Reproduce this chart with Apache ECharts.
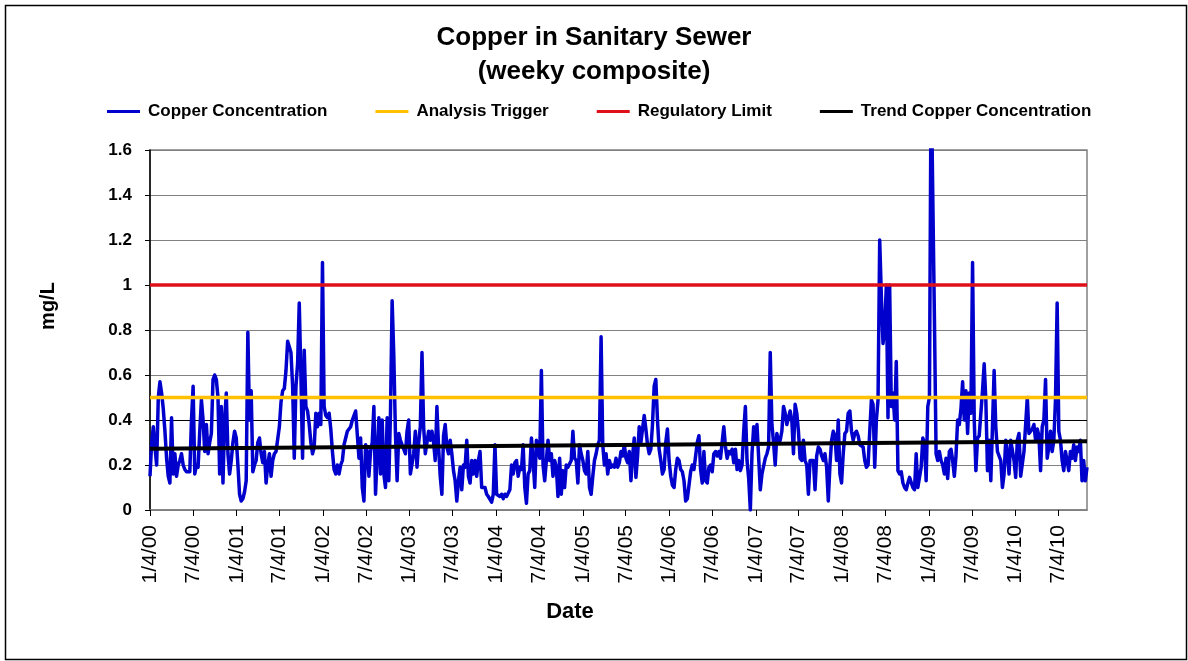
<!DOCTYPE html>
<html>
<head>
<meta charset="utf-8">
<script src="https://cdn.jsdelivr.net/npm/echarts@6/dist/echarts.min.js"></script>
<style>html,body{margin:0;padding:0;background:#fff}#chart{width:1188px;height:661px}</style>
</head>
<body>
<div id="chart"></div>
<script>
// ---- Data (weekly composite samples, first sample 1/4/00, one per week) ----
const firstSample = '1/4/00';
const copperConcentration = [
0.15,0.30,0.37,0.28,0.20,0.50,0.57,0.52,0.45,0.35,
0.23,0.15,0.12,0.41,0.16,0.25,0.15,0.20,0.22,0.25,
0.20,0.18,0.17,0.17,0.17,0.40,0.55,0.16,0.20,0.19,
0.35,0.49,0.40,0.26,0.38,0.25,0.30,0.34,0.58,0.60,
0.58,0.50,0.16,0.46,0.12,0.40,0.52,0.25,0.16,0.22,
0.30,0.35,0.32,0.20,0.07,0.04,0.05,0.08,0.13,0.79,
0.40,0.53,0.17,0.20,0.22,0.30,0.32,0.25,0.21,0.26,
0.12,0.20,0.25,0.15,0.22,0.25,0.26,0.26,0.37,0.48,
0.53,0.54,0.62,0.75,0.75,0.70,0.55,0.23,0.55,0.65,
0.92,0.60,0.23,0.71,0.46,0.44,0.38,0.30,0.25,0.28,
0.43,0.37,0.43,0.38,1.10,0.46,0.42,0.41,0.43,0.36,
0.26,0.18,0.16,0.20,0.16,0.20,0.22,0.29,0.32,0.35,
0.35,0.37,0.40,0.42,0.44,0.44,0.23,0.32,0.10,0.04,
0.29,0.26,0.15,0.26,0.30,0.46,0.07,0.25,0.41,0.16,
0.40,0.16,0.10,0.41,0.13,0.43,0.93,0.69,0.34,0.13,
0.34,0.31,0.29,0.27,0.25,0.35,0.40,0.16,0.16,0.25,
0.35,0.19,0.30,0.37,0.70,0.37,0.25,0.30,0.35,0.31,
0.35,0.30,0.22,0.46,0.28,0.15,0.07,0.33,0.38,0.28,
0.25,0.31,0.25,0.175,0.13,0.04,0.13,0.19,0.09,0.20,
0.19,0.31,0.15,0.12,0.22,0.16,0.22,0.15,0.22,0.26,
0.10,0.10,0.10,0.07,0.06,0.065,0.035,0.07,0.29,0.07,
0.07,0.06,0.07,0.05,0.07,0.06,0.06,0.09,0.20,0.16,
0.21,0.22,0.15,0.19,0.18,0.29,0.10,0.03,0.16,0.175,
0.32,0.22,0.10,0.31,0.31,0.23,0.62,0.20,0.13,0.22,
0.31,0.22,0.25,0.15,0.22,0.19,0.06,0.23,0.07,0.175,
0.10,0.20,0.19,0.19,0.22,0.35,0.23,0.22,0.12,0.29,
0.25,0.22,0.175,0.16,0.26,0.10,0.07,0.15,0.22,0.25,
0.29,0.31,0.77,0.29,0.20,0.25,0.16,0.22,0.19,0.20,
0.19,0.23,0.19,0.21,0.26,0.24,0.29,0.23,0.21,0.26,
0.13,0.24,0.32,0.145,0.24,0.37,0.30,0.36,0.42,0.36,
0.29,0.25,0.27,0.38,0.55,0.58,0.40,0.27,0.22,0.16,
0.18,0.30,0.36,0.22,0.15,0.11,0.10,0.18,0.23,0.22,
0.18,0.17,0.13,0.04,0.05,0.11,0.17,0.20,0.18,0.18,
0.30,0.33,0.18,0.12,0.26,0.13,0.12,0.19,0.20,0.17,
0.25,0.26,0.24,0.26,0.23,0.30,0.37,0.28,0.23,0.26,
0.25,0.27,0.21,0.27,0.18,0.22,0.175,0.20,0.35,0.46,
0.22,0.14,0.0,0.25,0.37,0.31,0.38,0.38,0.09,0.16,
0.16,0.23,0.25,0.28,0.70,0.38,0.30,0.20,0.34,0.30,
0.31,0.35,0.46,0.43,0.38,0.41,0.44,0.40,0.25,0.47,
0.43,0.35,0.23,0.22,0.31,0.22,0.20,0.07,0.22,0.22,
0.22,0.09,0.24,0.28,0.27,0.24,0.22,0.25,0.19,0.04,
0.20,0.31,0.35,0.33,0.22,0.40,0.16,0.12,0.25,0.34,
0.35,0.43,0.44,0.35,0.31,0.34,0.35,0.33,0.29,0.29,
0.28,0.22,0.19,0.20,0.35,0.49,0.47,0.19,0.40,0.49,
1.20,0.95,0.74,0.80,1.00,0.41,1.00,0.46,0.52,0.40,
0.66,0.175,0.16,0.17,0.12,0.10,0.09,0.12,0.145,0.15,
0.10,0.09,0.25,0.10,0.10,0.19,0.32,0.30,0.13,0.46,
0.50,1.95,1.95,0.85,0.25,0.22,0.26,0.22,0.20,0.16,
0.23,0.14,0.26,0.27,0.22,0.15,0.24,0.40,0.38,0.45,
0.57,0.40,0.53,0.34,0.52,0.43,1.10,0.40,0.175,0.32,
0.33,0.33,0.53,0.65,0.49,0.175,0.31,0.13,0.37,0.62,
0.37,0.26,0.26,0.22,0.10,0.16,0.31,0.25,0.16,0.31,
0.31,0.22,0.145,0.31,0.34,0.15,0.15,0.26,0.38,0.50,
0.34,0.35,0.36,0.38,0.31,0.36,0.33,0.175,0.37,0.40,
0.58,0.23,0.28,0.35,0.26,0.31,0.49,0.92,0.35,0.31,
0.22,0.175,0.26,0.22,0.175,0.26,0.23,0.29,0.22,0.28,
0.26,0.31,0.13,0.22,0.13,0.19
];
const analysisTrigger = [0.5, 0.5];          // first and last sample
const regulatoryLimit = [1.0, 1.0];          // first and last sample
const trendCopper = [0.272, 0.306];          // linear trend, first and last sample
const xTickLabels = ['1/4/00','7/4/00','1/4/01','7/4/01','1/4/02','7/4/02','1/4/03','7/4/03',
  '1/4/04','7/4/04','1/4/05','7/4/05','1/4/06','7/4/06','1/4/07','7/4/07','1/4/08','7/4/08',
  '1/4/09','7/4/09','1/4/10','7/4/10'];

// ---- Helpers ----
function parseMDY(s){ const p = s.split('/').map(Number); return new Date(2000 + p[2], p[0]-1, p[1]); }
function fmtMDY(v){ const d = new Date(v); return (d.getMonth()+1) + '/' + d.getDate() + '/' + String(d.getFullYear() % 100).padStart(2,'0'); }
const d0 = parseMDY(firstSample);
const sampleDates = copperConcentration.map((_, i) => new Date(d0.getFullYear(), d0.getMonth(), d0.getDate() + 7*i).getTime());
const firstT = sampleDates[0], lastT = sampleDates[sampleDates.length-1];
const tickTimes = xTickLabels.map(s => parseMDY(s).getTime());

const FONT = '"Liberation Sans", Arial, sans-serif';
const chart = echarts.init(document.getElementById('chart'));
chart.setOption({
  animation: false,
  backgroundColor: '#fff',
  textStyle: { fontFamily: FONT },
  title: {
    text: 'Copper in Sanitary Sewer\n(weeky composite)',
    left: 'center', top: 16,
    textStyle: { fontFamily: FONT, fontSize: 26, fontWeight: 'bold', color: '#000', lineHeight: 34 }
  },
  legend: {
    left: 107, top: 103, padding: 0, itemWidth: 33, itemHeight: 3, itemGap: 48, icon: 'rect',
    textStyle: { fontFamily: FONT, fontSize: 17, fontWeight: 'bold', color: '#000', padding: [0,0,0,3] },
    data: ['Copper Concentration','Analysis Trigger','Regulatory Limit','Trend Copper Concentration']
  },
  grid: { left: 150, right: 101, top: 150, bottom: 151, show: true, borderColor: '#808080', borderWidth: 1.5 },
  xAxis: {
    type: 'value', min: firstT, max: lastT, scale: true,
    axisLine: { lineStyle: { color: '#808080', width: 1.5 } },
    axisTick: { show: true, length: 6, customValues: tickTimes, lineStyle: { color: '#000' } },
    axisLabel: { customValues: tickTimes, formatter: fmtMDY, rotate: 90, margin: 15,
      fontFamily: FONT, fontSize: 21, color: '#000' },
    splitLine: { show: false }
  },
  yAxis: {
    type: 'value', min: 0, max: 1.6, interval: 0.2,
    axisLine: { show: true, lineStyle: { color: '#000', width: 1.5 } },
    axisTick: { show: true, length: 5, lineStyle: { color: '#000' } },
    axisLabel: { margin: 18, fontFamily: FONT, fontSize: 17, fontWeight: 'bold', color: '#000',
      formatter: v => String(Math.round(v*10)/10) },
    splitLine: { show: true, lineStyle: { color: ['#808080','#808080','#000','#808080','#808080','#808080','#808080','#808080','#808080'], width: 1.2 } }
  },
  graphic: [
    { type: 'rect', left: 3, top: 3, shape: { width: 1181, height: 654 }, style: { fill: 'none', stroke: '#000', lineWidth: 1.5 }, silent: true },
    { type: 'text', x: 48, y: 306, rotation: Math.PI/2, style: { text: 'mg/L', fontFamily: FONT, fontSize: 20, fontWeight: 'bold', fill: '#000', align: 'center', verticalAlign: 'middle' } },
    { type: 'text', x: 570, y: 612, style: { text: 'Date', fontFamily: FONT, fontSize: 22, fontWeight: 'bold', fill: '#000', align: 'center', verticalAlign: 'middle' } }
  ],
  series: [
    { name: 'Copper Concentration', type: 'line', showSymbol: false, symbol: 'none', clip: true,
      color: '#0000CC', lineStyle: { width: 3.5, color: '#0000CC', join: 'round' },
      data: copperConcentration.map((v, i) => [sampleDates[i], v]) },
    { name: 'Analysis Trigger', type: 'line', showSymbol: false, symbol: 'none',
      color: '#FFC000', lineStyle: { width: 3.5, color: '#FFC000' },
      data: [[firstT, analysisTrigger[0]], [lastT, analysisTrigger[1]]] },
    { name: 'Regulatory Limit', type: 'line', showSymbol: false, symbol: 'none',
      color: '#E0101A', lineStyle: { width: 3.5, color: '#E0101A' },
      data: [[firstT, regulatoryLimit[0]], [lastT, regulatoryLimit[1]]] },
    { name: 'Trend Copper Concentration', type: 'line', showSymbol: false, symbol: 'none',
      color: '#000', lineStyle: { width: 4, color: '#000' },
      data: [[firstT, trendCopper[0]], [lastT, trendCopper[1]]] }
  ]
});
</script>
</body>
</html>
